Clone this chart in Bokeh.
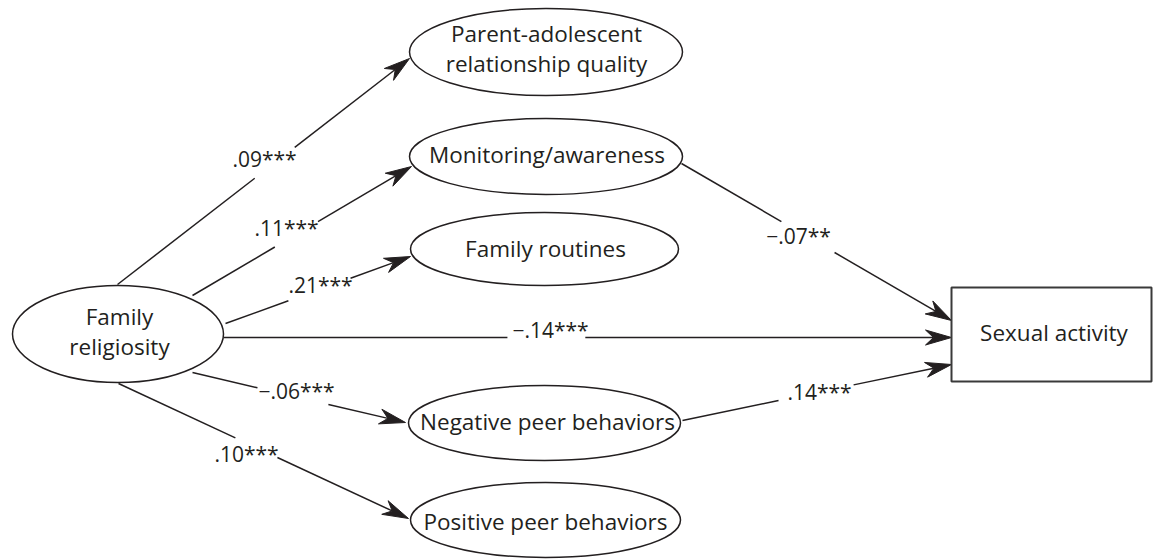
import numpy as np
from bokeh.plotting import figure
from bokeh.models import Range1d
from bokeh.embed import file_html
from bokeh.resources import INLINE
from bokeh.core.properties import value

# ---------------- data ----------------
node_labels = [
    "Family\nreligiosity",
    "Parent-adolescent\nrelationship quality",
    "Monitoring/awareness",
    "Family routines",
    "Negative peer behaviors",
    "Positive peer behaviors",
    "Sexual activity",
]
edge_source = [0, 0, 0, 0, 0, 0, 2, 4]
edge_target = [1, 2, 3, 6, 4, 5, 6, 6]
coefficients = [".09***", ".11***", ".21***", "\u2212.14***", "\u2212.06***", ".10***", "\u2212.07**", ".14***"]

# ---------------- layout (pixel space) ----------------
node_x = [117.5, 545.5, 545.5, 544, 544, 545, 1051]
node_y = [333.5, 51.5, 156, 248.5, 422.5, 519.5, 334]
node_w = [211, 273, 273, 268, 272, 270, 200]
node_h = [97, 87, 76, 73, 75, 75, 94]
node_shape = ["ellipse"] * 6 + ["rect"]
text_x = [119, 546, 546.5, 545, 547, 545, 1053.5]
text_y = [331, 48, 154, 248, 421, 521, 332]

edge_start = [(117, 284), (192, 295), (225, 323), (223, 337), (192, 372), (118, 383), (681, 163), (682, 420)]
edge_end = [(409, 58), (411, 166), (410, 256), (951, 337), (405, 422), (408, 518), (951, 320), (951, 364)]
gap_t = [(0.47, 0.607), (0.376, 0.573), (0.34, 0.676), (0.39, 0.497),
         (0.305, 0.638), (0.403, 0.548), (0.37, 0.567), (0.357, 0.636)]
label_pos = [(264, 158), (286, 227), (320, 284), (550, 329.5), (296, 390), (246, 453), (798, 235.5), (819, 391.5)]

INK = "#231f20"
FONT = "Open Sans"

W, H = 1153, 560
p = figure(width=W, height=H, x_range=Range1d(0, W), y_range=Range1d(H, 0),
           output_backend="svg", toolbar_location=None, min_border=0)
p.axis.visible = False
p.grid.visible = False
p.outline_line_color = None
p.background_fill_color = "white"
p.border_fill_color = "white"

# edges: two segments with a gap for the coefficient label, plus a barbed head
x0s, y0s, x1s, y1s = [], [], [], []
heads_x, heads_y = [], []
L, HW, NOTCH = 26, 7.5, 8
for (sx, sy), (ex, ey), (t0, t1) in zip(edge_start, edge_end, gap_t):
    dx, dy = ex - sx, ey - sy
    ln = np.hypot(dx, dy)
    ux, uy = dx / ln, dy / ln
    x0s += [sx, sx + t1 * dx]
    y0s += [sy, sy + t1 * dy]
    x1s += [sx + t0 * dx, ex - ux * (L - NOTCH)]
    y1s += [sy + t0 * dy, ey - uy * (L - NOTCH)]
    nx, ny = -uy, ux
    bx, by = ex - ux * L, ey - uy * L
    heads_x.append([ex, bx + nx * HW, ex - ux * (L - NOTCH), bx - nx * HW])
    heads_y.append([ey, by + ny * HW, ey - uy * (L - NOTCH), by - ny * HW])

p.segment(x0=x0s, y0=y0s, x1=x1s, y1=y1s, line_color=INK, line_width=1.5)
p.patches(xs=heads_x, ys=heads_y, fill_color=INK, line_color=INK, line_width=1)

# nodes
ei = [i for i in range(len(node_x)) if node_shape[i] == "ellipse"]
p.ellipse(x=[node_x[i] for i in ei], y=[node_y[i] for i in ei], width=[node_w[i] for i in ei],
          height=[node_h[i] for i in ei], fill_color="white", line_color=INK, line_width=1.5)
ri = [i for i in range(len(node_x)) if node_shape[i] == "rect"]
p.rect(x=[node_x[i] for i in ri], y=[node_y[i] for i in ri], width=[node_w[i] for i in ri],
       height=[node_h[i] for i in ri], fill_color="white", line_color="#3a3a3a", line_width=2)

p.text(x=text_x, y=text_y, text=node_labels, text_font=value(FONT), text_font_size="22.5px",
       text_color=INK, text_align="center", text_baseline="middle", text_line_height=0.98)

p.text(x=[lp[0] for lp in label_pos], y=[lp[1] for lp in label_pos], text=coefficients,
       text_font=value(FONT), text_font_size="21px", text_color=INK,
       text_align="center", text_baseline="middle")

open("out.html", "w").write(file_html(p, INLINE))
